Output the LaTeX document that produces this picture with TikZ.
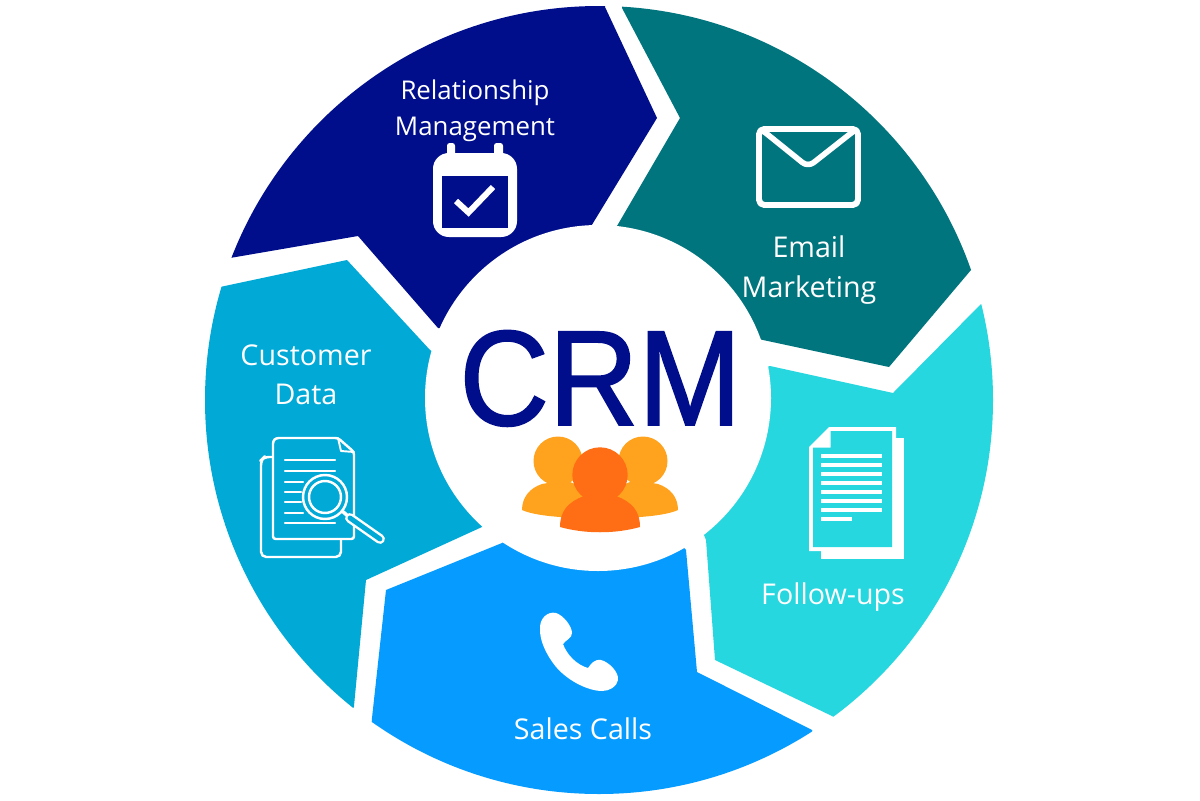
\documentclass[tikz,border=0pt]{standalone}
\usepackage{fontspec}
\setmainfont{Open Sans}
\newfontfamily\crmfont[FakeStretch=0.915,FakeBold=1.4]{Liberation Sans}
\definecolor{navyseg}{HTML}{000E8C}
\definecolor{tealseg}{HTML}{00757D}
\definecolor{aquaseg}{HTML}{26D7DF}
\definecolor{callseg}{HTML}{069CFF}
\definecolor{dataseg}{HTML}{00A9D6}
\definecolor{backperson}{HTML}{FFA31F}
\definecolor{frontperson}{HTML}{FF6E14}
\tikzset{
	seglabel/.style={text=white, align=center, font=\fontsize{16.3}{22.4}\selectfont},
	iconline/.style={draw=white, line width=#1, line cap=round, line join=round},
}

\begin{document}
\begin{tikzpicture}[x=0.02cm, y=-0.02cm]
		%%%%% START %%%%%
		
		\useasboundingbox (0, 0) rectangle (1200, 801);
		\fill[white] (0, 0) rectangle (1200, 801);
		
		\begin{scope}
			\clip (599, 400) circle (394);
			\fill[navyseg] (180, 266) -- (230, 258) -- (358, 236) -- (438, 328) -- (500, 330) -- (590, 228) -- (657, 118) -- (605, 7) -- (605, -30) -- (180, -30) -- cycle;
			\fill[tealseg] (622, 8) -- (680, 118) -- (617, 226) -- (600, 300) -- (763, 340) -- (889, 367) -- (971, 270) -- (1010, 225) -- (1010, -30) -- (622, -30) -- cycle;
			\fill[aquaseg] (982, 303) -- (893, 393) -- (770, 366) -- (650, 400) -- (706, 540) -- (715, 660) -- (832, 716) -- (900, 750) -- (1030, 750) -- (1030, 270) -- (1010, 275) -- cycle;
			\fill[callseg] (812, 730) -- (697, 672) -- (686, 550) -- (600, 450) -- (502, 543) -- (386, 590) -- (372, 718) -- (365, 820) -- (850, 820) -- cycle;
			\fill[dataseg] (220, 287) -- (347, 260) -- (430, 350) -- (550, 420) -- (482, 527) -- (366, 580) -- (354, 706) -- (340, 760) -- (170, 760) -- (170, 295) -- cycle;
		\end{scope}
		
		\fill[white] (598, 398) circle (173);
		
		\node[font=\crmfont\fontsize{77}{90}\selectfont, text=navyseg, anchor=base, inner sep=0] (crm) at (600.5, 425) {CRM};
		
		% people
		\fill[backperson] (522, 510) .. controls (522, 497) and (530, 488) .. (542, 484) -- (565, 480) -- (590, 490) -- (590, 518) .. controls (565, 518) and (535, 516) .. (522, 510) -- cycle;
		\fill[backperson] (558, 461) circle (24.5);
		\fill[backperson] (678, 510) .. controls (678, 497) and (670, 488) .. (658, 484) -- (635, 480) -- (610, 490) -- (610, 518) .. controls (635, 518) and (665, 516) .. (678, 510) -- cycle;
		\fill[backperson] (643, 461) circle (24.5);
		\fill[frontperson] (560, 527) .. controls (560, 511) and (568, 502) .. (584, 496) -- (616, 496) .. controls (632, 502) and (640, 511) .. (640, 527) .. controls (615, 534) and (585, 534) .. (560, 527) -- cycle;
		\fill[frontperson] (600, 475) circle (27.7);
		
		% calendar
		\fill[white, rounded corners=1.5] (447, 143) rectangle (455, 160);
		\fill[white, rounded corners=1.5] (494, 143) rectangle (503, 160);
		\fill[white, rounded corners=9] (433, 153) rectangle (517, 237);
		\fill[navyseg] (442, 176) rectangle (508, 228);
		\draw[iconline=3.4pt, line cap=butt, line join=miter] (456, 201) -- (468.5, 212.5) -- (493, 187);
		
		% envelope
		\draw[iconline=3.4pt, rounded corners=3] (759, 129) rectangle (858, 205);
		\draw[iconline=3.2pt, rounded corners=4] (762, 130) -- (808, 167) -- (855, 130);
		
		% document
		\fill[white] (821, 438) rectangle (904, 559);
		\fill[white] (809, 447) -- (829, 427) -- (896, 427) -- (896, 551) -- (809, 551) -- cycle;
		\fill[aquaseg] (813, 447.5) -- (830.5, 447.5) -- (830.5, 431) -- (892, 431) -- (892, 547) -- (813, 547) -- cycle;
		\foreach \liney in {456, 465, 474, 483, 492, 501, 510}
			\draw[white, line width=1.9pt] (821, \liney) -- (882, \liney);
		\draw[white, line width=1.9pt] (821, 519) -- (852, 519);
		
		% report with magnifier
		\draw[iconline=1.4pt, rounded corners=3] (273, 457) -- (264, 457) -- (261, 460) -- (261, 557) -- (341, 557) -- (341, 539);
		\draw[iconline=1.4pt, rounded corners=1.5] (338, 438) -- (276, 438) -- (273, 441) -- (273, 539) -- (354, 539) -- (354, 452) -- cycle;
		\draw[iconline=1.1pt] (338, 438) -- (341, 451) -- (354, 452);
		\foreach \liney/\lineend in {460/335, 471/335, 482/303, 492/301, 502/301, 513/303, 523/335}
			\draw[iconline=1.3pt] (285, \liney) -- (\lineend, \liney);
		\fill[dataseg] (325, 497) circle (22);
		\draw[iconline=1.4pt] (325, 497) circle (22);
		\draw[iconline=1.4pt] (325, 497) circle (16);
		\draw[white, line width=2pt] (342, 511) -- (348, 516);
		\draw[white, line width=5.6pt, line cap=round] (350, 518) -- (380, 539);
		\draw[dataseg, line width=2.8pt, line cap=round] (350, 518) -- (380, 539);
		
		% phone
		\fill[white] (540, 630) .. controls (539, 618) and (548, 611) .. (556, 613) .. controls (563, 615) and (572, 626) .. (572, 633) .. controls (572, 638) and (566, 640) .. (563, 644) .. controls (567, 655) and (577, 665) .. (588, 668) .. controls (591, 664) and (594, 659) .. (601, 660) .. controls (609, 662) and (619, 672) .. (618, 680) .. controls (617, 687) and (609, 691) .. (602, 691) .. controls (588, 691) and (565, 680) .. (553, 663) .. controls (545, 652) and (540, 640) .. (540, 630) -- cycle;
		
		% labels
		\node[seglabel, font=\fontsize{14.7}{20.4}\selectfont] (relation) at (475, 111) {Relationship\\Management};
		\node[seglabel] (email) at (809, 270) {Email\\Marketing};
		\node[seglabel] (customer) at (306, 375) {Customer\\Data};
		\node[seglabel] (followups) at (833, 597) {Follow-ups};
		\node[seglabel] (sales) at (583, 729) {Sales Calls};
		
		%%%%% END %%%%%
	\end{tikzpicture}
\end{document}
